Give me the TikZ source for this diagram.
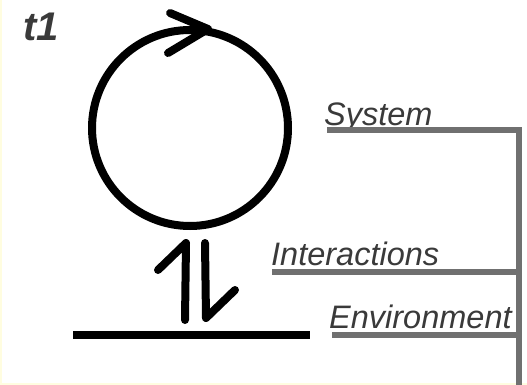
\documentclass[tikz,border=0pt]{standalone}
\usepackage{fontspec}
\setmainfont{Liberation Sans}
\begin{document}
\begin{tikzpicture}[x=1pt,y=-1pt,
  ink/.style={line width=8pt,line cap=round,line join=round,black},
  rail/.style={line width=5.5pt,color=railgray},
  lbl/.style={anchor=base west,inner sep=0pt,text=lblgray,font=\fontsize{32.5}{32.5}\selectfont\itshape}]
\definecolor{railgray}{HTML}{707070}
\definecolor{lblgray}{HTML}{3A3A3A}
\definecolor{edgeyellow}{HTML}{FFFDE0}
\useasboundingbox (0,0) rectangle (527,385);
\fill[white] (0,0) rectangle (527,385);
\fill[edgeyellow] (0,0) rectangle (2,385);
\fill[edgeyellow] (0,383) rectangle (527,385);
% title
\node[anchor=base west,inner sep=0pt,text=lblgray,font=\fontsize{40}{40}\selectfont\bfseries\itshape] (title) at (23,41) {t1};
% cycle
\coordinate (cc) at (190,128);
\draw[ink] (cc) circle[radius=98];
\coordinate (tip) at (208,29);
\draw[ink] (170,13) -- (tip) -- (168,53);
% interaction arrows
\coordinate (upb) at (185,320);
\coordinate (upt) at (186,243);
\draw[ink] (upb) -- (upt) -- (158,270);
\coordinate (dnt) at (205,243);
\coordinate (dnb) at (206,318);
\draw[ink] (dnt) -- (dnb) -- (235,290);
% environment line
\coordinate (envl) at (73,335);
\coordinate (envr) at (310,335);
\draw[line width=7.5pt,black] (envl) -- (envr);
% labels
\node[lbl] (sys) at (324,125) {System};
\node[lbl] (int) at (271,265) {Interactions};
\node[lbl] (env) at (329,328) {Environment};
% gray rail
\coordinate (railtop) at (519,130);
\coordinate (railbot) at (519,385);
\draw[rail] (327,130) -- (railtop) -- (railbot);
\draw[rail] (272,272) -- (519,272);
\draw[rail] (332,335) -- (519,335);
\end{tikzpicture}
\end{document}
